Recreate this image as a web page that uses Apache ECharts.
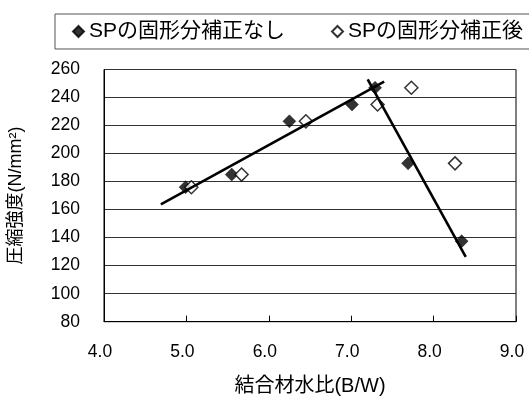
<!DOCTYPE html>
<html>
<head>
<meta charset="utf-8">
<script src="https://cdn.jsdelivr.net/npm/echarts@6/dist/echarts.min.js"></script>
<style>
  html, body { margin: 0; padding: 0; background: #fff; }
  #chart { width: 529px; height: 398px; }
</style>
</head>
<body>
<div id="chart"></div>
<script>
// Binder/water ratio vs. compressive strength
const uncorrectedBW = [4.99, 5.55, 6.25, 7.01, 7.29, 7.69, 8.34];
const uncorrectedStrength = [176, 185, 223, 235, 247, 193, 137.5];
const correctedBW = [5.06, 5.67, 6.45, 7.32, 7.73, 8.26];
const correctedStrength = [176, 185, 223, 235, 247, 193];

// Hand-fitted trend lines (start / end points)
const risingTrendBW = [4.69, 7.40];
const risingTrendStrength = [163.7, 251.3];
const fallingTrendBW = [7.20, 8.39];
const fallingTrendStrength = [253, 126.3];

const xTicks = { min: 4, max: 9, step: 1 };
const yTicks = { min: 80, max: 260, step: 20 };

const seriesNames = ['SPの固形分補正なし', 'SPの固形分補正後'];

const pairs = (xs, ys) => xs.map((x, i) => [x, ys[i]]);
const FONT = '"Liberation Sans", "Noto Sans CJK JP", sans-serif';

const chart = echarts.init(document.getElementById('chart'), null, { renderer: 'canvas' });
chart.setOption({
  animation: false,
  backgroundColor: '#fff',
  textStyle: { fontFamily: FONT, color: '#000' },
  grid: {
    left: 104, right: 13, top: 69.5, bottom: 76.3,
    containLabel: false, outerBoundsMode: 'none',
    show: true, borderColor: '#000', borderWidth: 1
  },
  legend: {
    data: [
      { name: seriesNames[0], icon: 'diamond' },
      { name: seriesNames[1], icon: 'diamond' }
    ],
    orient: 'horizontal',
    left: 55, top: 14, width: 620,
    padding: [7, 10, 7, 17],
    itemWidth: 11, itemHeight: 11, itemGap: 46,
    borderColor: '#555', borderWidth: 1,
    textStyle: { fontSize: 21, fontFamily: FONT, color: '#000' }
  },
  xAxis: {
    type: 'value',
    min: xTicks.min, max: xTicks.max, interval: xTicks.step,
    name: '結合材水比(B/W)',
    nameLocation: 'middle', nameGap: 55,
    nameTextStyle: { fontSize: 20, fontFamily: FONT, color: '#000' },
    axisLine: { lineStyle: { color: '#000', width: 1 } },
    axisTick: { show: true, inside: true, length: 6, lineStyle: { color: '#000' } },
    axisLabel: {
      fontSize: 17.5, color: '#000', margin: 22, padding: [0, 8, 0, 0],
      formatter: v => v.toFixed(1)
    },
    splitLine: { show: false }
  },
  yAxis: {
    type: 'value',
    min: yTicks.min, max: yTicks.max, interval: yTicks.step,
    name: '圧縮強度(N/mm²)',
    nameLocation: 'middle', nameGap: 79,
    nameTextStyle: { fontSize: 18, fontFamily: FONT, color: '#000' },
    axisLine: { lineStyle: { color: '#000', width: 1 } },
    axisTick: { show: false },
    axisLabel: { fontSize: 17.5, color: '#000', margin: 24 },
    splitLine: { show: true, lineStyle: { color: '#333', width: 1 } }
  },
  series: [
    {
      name: seriesNames[0], type: 'scatter', symbol: 'diamond', symbolSize: 13,
      itemStyle: { color: '#000', borderColor: '#000', borderWidth: 0.5 },
      data: pairs(uncorrectedBW, uncorrectedStrength), z: 3
    },
    {
      name: seriesNames[1], type: 'scatter', symbol: 'diamond', symbolSize: 13,
      itemStyle: { color: '#fff', borderColor: '#000', borderWidth: 1.5 },
      data: pairs(correctedBW, correctedStrength), z: 4
    },
    {
      name: 'rising', type: 'line', symbol: 'none', silent: true,
      lineStyle: { color: '#000', width: 2.6 },
      data: pairs(risingTrendBW, risingTrendStrength), z: 5
    },
    {
      name: 'falling', type: 'line', symbol: 'none', silent: true,
      lineStyle: { color: '#000', width: 2.6 },
      data: pairs(fallingTrendBW, fallingTrendStrength), z: 5
    }
  ]
});
</script>
</body>
</html>
